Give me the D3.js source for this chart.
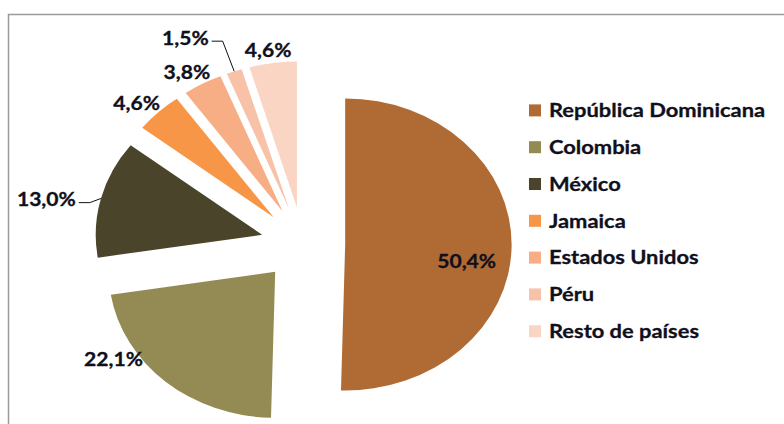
<!DOCTYPE html>
<html>
<head>
<meta charset="utf-8">
<script src="https://cdn.jsdelivr.net/npm/d3@7"></script>
<style>
	html, body { margin: 0; padding: 0; background: #fff; }
	svg { display: block; }
</style>
</head>
<body>
<svg id="pie-chart-svg"></svg>
<script>
// Datos del gráfico
const paises = ["República Dominicana", "Colombia", "México", "Jamaica", "Estados Unidos", "Péru", "Resto de países"];
const valores = [50.4, 22.1, 13.0, 4.6, 3.8, 1.5, 4.6];
const colores = ["#B06A33", "#948A54", "#4A452A", "#F79646", "#F7AE84", "#F8C2A9", "#FAD5C4"];

// Etiquetas movidas a mano (como en el original), desplazamiento respecto a su sitio por defecto
const labelShift = {
	"República Dominicana": [0, 16],
	"Colombia": [-27, -31],
	"México": [-20, 4],
	"Péru": [-38, -21]
};
const withLeader = ["México", "Péru"];

const width = 784;
const height = 424;
const center = { x: 303, y: 244 };
const radius = 146;
const stretch = 1.14;   // the picture is wider than tall
const explode = 37;
const fontFamily = "Lato, 'Open Sans', sans-serif";
const labelSize = 18.5;
const legendSize = 19.2;

const svg = d3.select("#pie-chart-svg")
	.attr("width", width)
	.attr("height", height);

// marco del gráfico
svg.append("rect")
	.attr("x", 8.5)
	.attr("y", 14.5)
	.attr("width", 800)
	.attr("height", 440)
	.style("fill", "none")
	.style("stroke", "#9a9a9a")
	.style("stroke-width", "1.5px");

const pie = d3.pie().sort(null).value(d => d);
const arcs = pie(valores);
const arc = d3.arc().innerRadius(0).outerRadius(radius);

// screen position of a polar point, relative to an origin
function polar(origin, angle, r) {
	return [origin[0] + Math.sin(angle) * r * stretch, origin[1] - Math.cos(angle) * r];
}

function formatPct(v) {
	return v.toFixed(1).replace(".", ",") + "%";
}

const slices = arcs.map((a, i) => {
	const mid = (a.startAngle + a.endAngle) / 2;
	const apex = polar([center.x, center.y], mid, explode);
	return { arc: a, mid: mid, apex: apex, name: paises[i], color: colores[i] };
});

// porciones
svg.selectAll(".slice")
	.data(slices)
	.enter()
	.append("path")
	.attr("class", "slice")
	.attr("d", d => arc(d.arc))
	.attr("transform", d => "translate(" + d.apex[0] + "," + d.apex[1] + ") scale(" + stretch + ",1)")
	.style("fill", d => d.color);

function addText(sel, size) {
	return sel
		.style("font-family", fontFamily)
		.style("font-size", size + "px")
		.style("font-weight", "bold")
		.style("fill", "#10101c")
		.style("stroke", "#10101c")
		.style("stroke-width", "0.3px");
}

// etiquetas de datos
const labelLayer = svg.append("g").attr("class", "data-labels");
slices.forEach((s, i) => {
	const txt = addText(labelLayer.append("text"), labelSize)
		.attr("text-anchor", "middle")
		.attr("dy", "0.35em")
		.text(formatPct(valores[i]));
	const w = txt.node().getComputedTextLength() * stretch;
	const h = 14;
	let cx, cy;
	const edge = polar(s.apex, s.mid, radius);
	if (s.arc.value > 40) {
		// inside
		[cx, cy] = polar(s.apex, s.mid, radius * 0.73);
	}
	else {
		let ux = Math.sin(s.mid) * stretch, uy = -Math.cos(s.mid);
		const n = Math.hypot(ux, uy);
		ux /= n; uy /= n;
		cx = edge[0] + ux * (6 + w / 2);
		cy = edge[1] + uy * (6 + h / 2);
	}
	const shift = labelShift[s.name];
	if (shift) {
		cx += shift[0];
		cy += shift[1];
	}
	txt.attr("transform", "translate(" + cx + "," + cy + ") scale(" + stretch + ",1)");

	if (withLeader.includes(s.name)) {
		const x0 = cx + w / 2 + 3;
		const y0 = cy + 3;
		labelLayer.append("path")
			.attr("d", d3.line()([[x0, y0], [x0 + 11, y0], edge]))
			.style("fill", "none")
			.style("stroke", "#111")
			.style("stroke-width", "1px");
	}
});

// leyenda
const legendY = d3.scaleBand()
	.domain(paises)
	.range([92, 349.6]);

const legend = svg.selectAll(".legend-item")
	.data(paises)
	.enter()
	.append("g")
	.attr("class", "legend-item")
	.attr("transform", d => "translate(529," + (legendY(d) + legendY.bandwidth() / 2) + ")");

legend.append("rect")
	.attr("x", 0)
	.attr("y", -6)
	.attr("width", 12)
	.attr("height", 12)
	.style("fill", (d, i) => colores[i]);

addText(legend.append("text"), legendSize)
	.attr("transform", "translate(20,0) scale(" + stretch + ",1)")
	.attr("dy", "0.35em")
	.text(d => d);
</script>
</body>
</html>
